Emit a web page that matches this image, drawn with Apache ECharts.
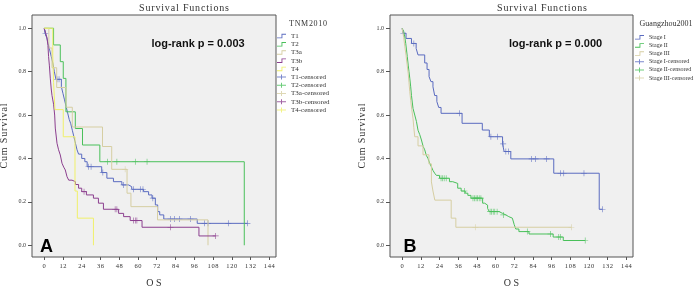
<!DOCTYPE html>
<html>
<head>
<meta charset="utf-8">
<script src="https://cdn.jsdelivr.net/npm/echarts@6/dist/echarts.min.js"></script>
<style>
  html, body { margin: 0; background: #fff; }
  #km_chart { width: 700px; height: 286px; }
</style>
</head>
<body>
<div id="km_chart"></div>
<script>
  // axis ticks
  const monthTicks = [0, 12, 24, 36, 48, 60, 72, 84, 96, 108, 120, 132, 144]
  const survTicks = [0, 0.2, 0.4, 0.6, 0.8, 1.0]

  // panel A - TNM2010 (event times / survival after event / censored times)
  const t1Time = [0, 0.5, 1.5, 2.5, 3.5, 4.5, 5.5, 6.5, 7.5, 11, 12, 13, 14, 15, 16, 17, 18, 19, 20, 21, 22, 24, 26, 27.5, 36.8, 40.1, 44.3, 49.7, 54, 56, 63.6, 66.8, 69, 71.1, 72.6, 73.9, 76.5, 97.9]
  const t1Surv = [1, 0.977, 0.96, 0.93, 0.9, 0.87, 0.84, 0.8, 0.765, 0.73, 0.70, 0.67, 0.64, 0.61, 0.58, 0.56, 0.53, 0.5, 0.47, 0.44, 0.42, 0.40, 0.385, 0.362, 0.335, 0.309, 0.293, 0.278, 0.27, 0.258, 0.247, 0.232, 0.217, 0.186, 0.155, 0.14, 0.121, 0.101]
  const t1Cens = [0.8, 8.2, 9.5, 28.3, 30, 37.5, 50.8, 57.2, 61.5, 63.2, 69.5, 80.8, 83.3, 86.5, 93.6, 102.6, 104.8, 117.8, 130]

  const t2Time = [0, 6, 10.3, 12.2, 13.9, 19.9, 24.5, 35.6, 128]
  const t2Surv = [1, 0.923, 0.846, 0.769, 0.615, 0.538, 0.462, 0.385, 0]
  const t2Cens = [40.5, 46.5, 58.3, 65.8]

  const t3aTime = [0, 3, 5, 8, 14, 18, 37.3, 43.2, 53, 55.5, 72.5, 104.8]
  const t3aSurv = [1, 0.909, 0.818, 0.727, 0.636, 0.545, 0.455, 0.35, 0.24, 0.178, 0.117, 0]
  const t3aCens = [51.8]

  const t3bTime = [0, 1, 1.8, 2.4, 2.8, 3.3, 3.9, 4.5, 5, 6, 6.7, 7.1, 8.2, 9.2, 10.3, 11.4, 12.5, 13.5, 14.6, 15.7, 17.8, 20, 22, 24, 27, 31.5, 34.7, 37.9, 47.6, 50.8, 55, 62.6, 99]
  const t3bSurv = [1, 0.977, 0.955, 0.92, 0.87, 0.83, 0.77, 0.72, 0.69, 0.65, 0.6, 0.54, 0.47, 0.44, 0.416, 0.378, 0.36, 0.347, 0.316, 0.30, 0.293, 0.28, 0.263, 0.247, 0.232, 0.217, 0.194, 0.166, 0.147, 0.132, 0.114, 0.083, 0.043]
  const t3bCens = [25.5, 45.4, 46.5, 57.2, 58.3, 59.3, 80.8, 109.7]

  const t4Time = [0, 5.5, 6, 6.9, 12.2, 19.7, 21.2, 31.5]
  const t4Surv = [1, 0.875, 0.75, 0.625, 0.5, 0.25, 0.125, 0]
  const t4Cens = []

  // panel B - Guangzhou2001
  const s1Time = [0, 0.5, 2.5, 6, 9, 10.2, 14.5, 16, 17.3, 18.5, 19.8, 20.9, 22.3, 23.5, 25, 38.5, 51.5, 56, 64.5, 65.5, 69.8, 97.4, 126.6]
  const s1Surv = [1, 0.977, 0.953, 0.93, 0.907, 0.877, 0.84, 0.81, 0.777, 0.754, 0.73, 0.69, 0.662, 0.635, 0.608, 0.562, 0.531, 0.5, 0.467, 0.432, 0.398, 0.332, 0.166]
  const s1Cens = [0.8, 7.5, 36.8, 57, 61.3, 64.9, 66.6, 68.3, 83.2, 85.7, 92.8, 101.7, 103.8, 116.8, 128.7]

  const s2Time = [0, 1, 1.7, 2.3, 2.8, 3.3, 3.9, 4.4, 4.9, 5.5, 6, 6.5, 7, 8.1, 9.2, 10.2, 11.3, 12.4, 13.5, 14.5, 15.5, 16.6, 17.6, 18.7, 19.8, 20.9, 22, 24, 30.4, 32.5, 35.7, 37.9, 40.5, 42.2, 44.2, 51.7, 53, 54.9, 56, 62.3, 64.5, 66.6, 68.5, 70.8, 72, 73, 75, 81.5, 97, 103.5]
  const s2Surv = [1, 0.985, 0.96, 0.93, 0.9, 0.87, 0.83, 0.8, 0.77, 0.73, 0.69, 0.66, 0.63, 0.6, 0.57, 0.53, 0.51, 0.485, 0.455, 0.44, 0.415, 0.4, 0.38, 0.363, 0.345, 0.332, 0.322, 0.309, 0.293, 0.285, 0.263, 0.25, 0.24, 0.23, 0.217, 0.194, 0.185, 0.17, 0.155, 0.147, 0.14, 0.132, 0.125, 0.117, 0.095, 0.075, 0.063, 0.052, 0.038, 0.022]
  const s2Cens = [25, 26, 27, 28.3, 40, 45.5, 46.5, 47.5, 48.5, 49.5, 50.6, 56.5, 57.5, 58.5, 59.5, 61, 65, 80.4, 95.3, 100.6, 101.7, 117.6]

  const s3Time = [0, 1, 1.7, 2.5, 3.2, 3.9, 4.4, 4.9, 5.5, 6.2, 7, 7.5, 8.1, 10.2, 13.4, 17.2, 18.8, 19.8, 21, 31.5, 34.5]
  const s3Surv = [1, 0.958, 0.917, 0.875, 0.833, 0.792, 0.75, 0.708, 0.667, 0.625, 0.583, 0.542, 0.5, 0.458, 0.417, 0.375, 0.292, 0.25, 0.208, 0.125, 0.083]
  const s3Cens = [47, 108.7]

  const blue = '#5a6bc0'
  const green = '#49c05a'
  const tan = '#d6cea2'
  const purple = '#8c3f8f'
  const yellow = '#f0f06a'

  const groupsA = [
    { name: 'T1', color: blue, time: t1Time, surv: t1Surv, cens: t1Cens },
    { name: 'T2', color: green, time: t2Time, surv: t2Surv, cens: t2Cens },
    { name: 'T3a', color: tan, time: t3aTime, surv: t3aSurv, cens: t3aCens },
    { name: 'T3b', color: purple, time: t3bTime, surv: t3bSurv, cens: t3bCens },
    { name: 'T4', color: yellow, time: t4Time, surv: t4Surv, cens: t4Cens }
  ]
  const groupsB = [
    { name: 'Stage I', color: blue, time: s1Time, surv: s1Surv, cens: s1Cens },
    { name: 'Stage II', color: green, time: s2Time, surv: s2Surv, cens: s2Cens },
    { name: 'Stage III', color: tan, time: s3Time, surv: s3Surv, cens: s3Cens }
  ]

  const stepIcon = 'path://M0,4H5V0H10V1H6V5H0Z'
  const plusIcon = 'path://M0,2H9V3H0ZM4,0H5V5H4Z'
  const plusSymbol = 'path://M0,4H9V5H0ZM4,0H5V9H4Z'
  const serif = '"Liberation Serif", "DejaVu Serif", serif'
  const hs = '\u200a'
  const spaced = s => s.split('').join(hs)

  function stepData (g) {
    let pts = g.time.map((t, i) => [t, g.surv[i]])
    let lastC = g.cens.length ? Math.max.apply(null, g.cens) : -1
    if (lastC > g.time[g.time.length - 1]) pts.push([lastC, g.surv[g.surv.length - 1]])
    return pts
  }
  function censData (g) {
    return g.cens.map(function (c) {
      let s = 1
      g.time.forEach(function (t, i) { if (t <= c) s = g.surv[i] })
      return [c, s]
    })
  }

  function buildSeries (groups, idx) {
    let lines = groups.map(g => ({
      name: g.name,
      type: 'line',
      step: 'end',
      xAxisIndex: idx,
      yAxisIndex: idx,
      showSymbol: false,
      animation: false,
      color: g.color,
      lineStyle: { color: g.color, width: 1 },
      data: stepData(g)
    }))
    let marks = groups.map(g => ({
      name: g.name + '-censored',
      type: 'scatter',
      xAxisIndex: idx,
      yAxisIndex: idx,
      symbol: plusSymbol,
      symbolSize: 6,
      animation: false,
      color: g.color,
      itemStyle: { color: g.color },
      data: censData(g)
    }))
    return lines.concat(marks)
  }

  function legendData (groups) {
    return groups.map(g => ({ name: g.name, icon: stepIcon }))
      .concat(groups.map(g => ({ name: g.name + '-censored', icon: plusIcon })))
  }

  function xAxis (idx) {
    return {
      type: 'value',
      gridIndex: idx,
      min: -7.8,
      max: 148.3,
      name: 'O S',
      nameLocation: 'middle',
      nameGap: 21,
      nameTextStyle: { fontFamily: serif, fontSize: 10, color: '#333' },
      axisLine: { show: false, onZero: false },
      axisTick: { show: true, customValues: monthTicks, length: 3, lineStyle: { color: '#555' } },
      axisLabel: {
        customValues: monthTicks,
        fontFamily: serif,
        fontSize: 6.5,
        color: '#333',
        margin: 6,
        formatter: v => spaced(String(v))
      },
      splitLine: { show: false }
    }
  }
  function yAxis (idx) {
    return {
      type: 'value',
      gridIndex: idx,
      min: -0.054,
      max: 1.061,
      name: spaced('Cum Survival'),
      nameLocation: 'middle',
      nameGap: 23,
      nameRotate: 90,
      nameTextStyle: { fontFamily: serif, fontSize: 10, color: '#333' },
      axisLine: { show: false, onZero: false },
      axisTick: { show: true, customValues: survTicks, length: 4, lineStyle: { color: '#555' } },
      axisLabel: {
        customValues: survTicks,
        fontFamily: serif,
        fontSize: 6,
        color: '#333',
        margin: 6,
        formatter: v => v.toFixed(1)
      },
      splitLine: { show: false }
    }
  }

  function label (text, x, y, font, color) {
    return {
      type: 'text',
      x: x,
      y: y,
      style: { text: text, font: font, fill: color || '#333', align: 'center', verticalAlign: 'middle', textAlign: 'center', textVerticalAlign: 'middle' }
    }
  }

  let myChart = echarts.init(document.getElementById('km_chart'), null, { renderer: 'canvas' })
  let legendStyle = {
    orient: 'vertical',
    selectedMode: false,
    itemGap: 0,
    itemWidth: 9,
    itemHeight: 5,
    padding: 0
  }
  let gridStyle = {
    show: true,
    backgroundColor: '#f0f0f0',
    borderColor: '#555',
    borderWidth: 1,
    containLabel: false,
    outerBoundsMode: 'none'
  }
  let option = {
    backgroundColor: '#fff',
    animation: false,
    grid: [
      Object.assign({ left: 32, top: 15, width: 244, height: 242 }, gridStyle),
      Object.assign({ left: 390, top: 15, width: 243, height: 242 }, gridStyle)
    ],
    xAxis: [xAxis(0), xAxis(1)],
    yAxis: [yAxis(0), yAxis(1)],
    legend: [
      Object.assign({}, legendStyle, {
        left: 277,
        top: 32,
        data: legendData(groupsA),
        textStyle: { fontFamily: serif, fontSize: 7, color: '#333', lineHeight: 8.2 }
      }),
      Object.assign({}, legendStyle, {
        left: 635,
        top: 33.2,
        data: legendData(groupsB),
        textStyle: { fontFamily: serif, fontSize: 6, color: '#333', lineHeight: 8.15 }
      })
    ],
    graphic: [
      label(spaced('Survival Functions'), 184, 8, '10px ' + serif),
      label(spaced('Survival Functions'), 542, 8, '10px ' + serif),
      label(spaced('TNM2010'), 308, 24, '8px ' + serif),
      label('Guangzhou2001', 666, 24, '8px ' + serif),
      label('log-rank p = 0.003', 198, 44, 'bold 11px "Liberation Sans", Arial, sans-serif', '#111'),
      label('log-rank p = 0.000', 555.5, 44, 'bold 11px "Liberation Sans", Arial, sans-serif', '#111'),
      label('A', 46.5, 247, 'bold 18px "Liberation Sans", Arial, sans-serif', '#000'),
      label('B', 410, 247, 'bold 18px "Liberation Sans", Arial, sans-serif', '#000')
    ],
    series: buildSeries(groupsA, 0).concat(buildSeries(groupsB, 1))
  }
  myChart.setOption(option)
</script>
</body>
</html>
